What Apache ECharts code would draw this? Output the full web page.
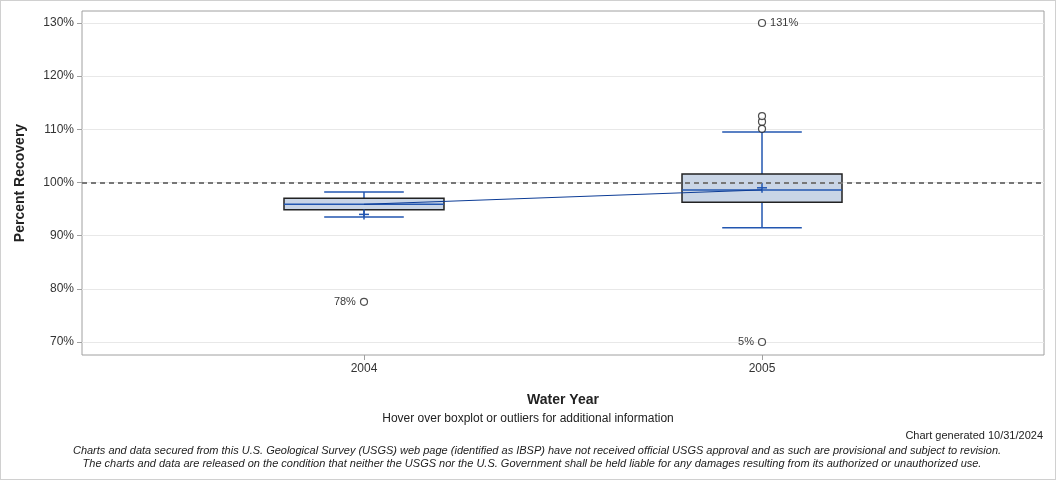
<!DOCTYPE html>
<html><head><meta charset="utf-8">
<script src="https://cdn.jsdelivr.net/npm/echarts@6/dist/echarts.min.js"></script>
<style>html,body{margin:0;padding:0;background:#fff}#c{width:1056px;height:480px;box-sizing:border-box;border:1px solid #d0d0d0}</style>
</head><body><div id="c"></div>
<script>
const years = [2004, 2005];
const whiskerLow = [93.5, 91.5];
const q1 = [94.85, 96.3];
const median = [95.9, 98.6];
const q3 = [97.05, 101.6];
const whiskerHigh = [98.2, 109.5];
const means = [94.0, 99.0];
const outlierYears = [2004, 2005, 2005, 2005, 2005, 2005];
const outlierValues = [77.55, 70.0, 110.1, 111.45, 112.5, 130.0];
const outlierLabels = ['78%', '5%', '', '', '', '131%'];
const outlierLabelSide = ['left', 'left', 'right', 'right', 'right', 'right'];
const yTicks = [70, 80, 90, 100, 110, 120, 130];

const chart = echarts.init(document.getElementById('c'));
const boxData = years.map((y, i) => [y, whiskerLow[i], q1[i], median[i], q3[i], whiskerHigh[i], means[i]]);
const font = 'Liberation Sans, Arial, sans-serif';

chart.setOption({
  animation: false,
  grid: {left: 81, right: 11, top: 10, bottom: 124, show: true, borderColor: '#a0a0a0', borderWidth: 1, backgroundColor: 'transparent'},
  xAxis: {
    type: 'value', min: 2003.2915, max: 2005.7085,
    axisLine: {show: false},
    axisTick: {show: true, length: 5, lineStyle: {color: '#a0a0a0'}, customValues: years},
    axisLabel: {customValues: years, color: '#333', fontFamily: font, fontSize: 12, margin: 8, formatter: v => String(v)},
    splitLine: {show: false},
    name: 'Water Year', nameLocation: 'middle', nameGap: 38,
    nameTextStyle: {fontFamily: font, fontWeight: 'bold', fontSize: 14, color: '#222'}
  },
  yAxis: {
    type: 'value', min: 67.55, max: 132.26,
    axisLine: {show: false},
    axisTick: {show: true, length: 5, lineStyle: {color: '#a0a0a0'}, customValues: yTicks},
    axisLabel: {customValues: yTicks, color: '#333', fontFamily: font, fontSize: 12, margin: 8, formatter: v => v + '%'},
    splitLine: {show: true, lineStyle: {color: '#e8e8e8', width: 1}},
    name: 'Percent Recovery', nameLocation: 'middle', nameGap: 55,
    nameTextStyle: {fontFamily: font, fontWeight: 'bold', fontSize: 14, color: '#222'}
  },
  title: [
    {text: 'Hover over boxplot or outliers for additional information', left: 'center', top: 407, textStyle: {fontFamily: font, fontSize: 12, fontWeight: 'normal', color: '#222'}},
    {text: 'Chart generated 10/31/2024', right: 7, top: 424, textStyle: {fontFamily: font, fontSize: 11, fontWeight: 'normal', color: '#222'}},
    {text: 'Charts and data secured from this U.S. Geological Survey (USGS) web page (identified as IBSP) have not received official USGS approval and as such are provisional and subject to revision.', left: 531, textAlign: 'center', top: 439, textStyle: {fontFamily: font, fontStyle: 'italic', fontSize: 11, fontWeight: 'normal', color: '#222'}},
    {text: 'The charts and data are released on the condition that neither the USGS nor the U.S. Government shall be held liable for any damages resulting from its authorized or unauthorized use.', left: 526, textAlign: 'center', top: 452, textStyle: {fontFamily: font, fontStyle: 'italic', fontSize: 11, fontWeight: 'normal', color: '#222'}}
  ],
  series: [
    {
      type: 'line', data: [], markLine: {
        silent: true, symbol: 'none', label: {show: false},
        lineStyle: {color: '#777', type: [5, 4], width: 2},
        data: [{yAxis: 100}]
      }
    },
    {
      type: 'custom', data: boxData, z: 3,
      renderItem: function (params, api) {
        const x = api.value(0);
        const pLo = api.coord([x, api.value(1)]);
        const pQ1 = api.coord([x, api.value(2)]);
        const pMed = api.coord([x, api.value(3)]);
        const pQ3 = api.coord([x, api.value(4)]);
        const pHi = api.coord([x, api.value(5)]);
        const pMean = api.coord([x, api.value(6)]);
        const boxHalf = api.size([0.201, 0])[0];
        const capHalf = api.size([0.1, 0])[0];
        const cx = pMed[0];
        const blue = '#2256b0';
        const ls = {stroke: blue, lineWidth: 1.5};
        return {type: 'group', children: [
          {type: 'line', shape: {x1: cx, y1: pQ3[1], x2: cx, y2: pHi[1]}, style: ls},
          {type: 'line', shape: {x1: cx, y1: pQ1[1], x2: cx, y2: pLo[1]}, style: ls},
          {type: 'line', shape: {x1: cx - capHalf, y1: pHi[1], x2: cx + capHalf, y2: pHi[1]}, style: ls},
          {type: 'line', shape: {x1: cx - capHalf, y1: pLo[1], x2: cx + capHalf, y2: pLo[1]}, style: ls},
          {type: 'rect', shape: {x: cx - boxHalf, y: pQ3[1], width: boxHalf * 2, height: pQ1[1] - pQ3[1]}, style: {fill: '#c9d5e6', stroke: '#222', lineWidth: 1.5}},
          {type: 'line', shape: {x1: cx - boxHalf, y1: pMed[1], x2: cx + boxHalf, y2: pMed[1]}, style: ls},
          {type: 'line', shape: {x1: cx - 5, y1: pMean[1], x2: cx + 5, y2: pMean[1]}, style: ls},
          {type: 'line', shape: {x1: cx, y1: pMean[1] - 5, x2: cx, y2: pMean[1] + 5}, style: ls}
        ]};
      }
    },
    {
      type: 'line', data: years.map((y, i) => [y, median[i]]), z: 4,
      symbol: 'none', lineStyle: {color: '#0c3c96', width: 1}
    },
    {
      type: 'scatter', z: 5,
      data: outlierYears.map((y, i) => ({
        value: [y, outlierValues[i]],
        label: {show: outlierLabels[i] !== '', formatter: outlierLabels[i], position: outlierLabelSide[i], distance: 4, fontFamily: font, fontSize: 11, color: '#000'}
      })),
      symbol: 'circle', symbolSize: 7,
      itemStyle: {color: '#fff', borderColor: '#222', borderWidth: 1.2}
    }
  ]
});
</script></body></html>
